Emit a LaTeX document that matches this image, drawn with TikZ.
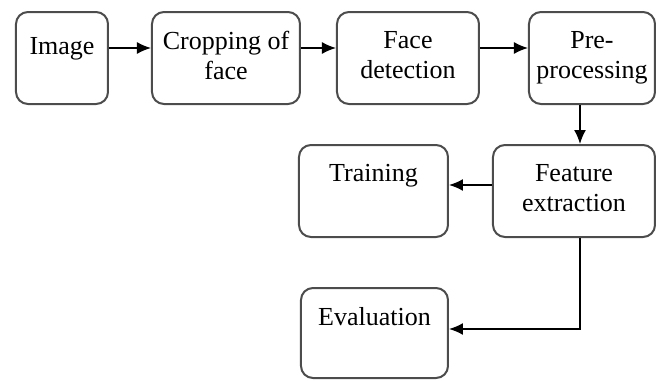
\documentclass[tikz,border=0pt]{standalone}
\usepackage{fontspec}
\setmainfont{Liberation Serif}
\usepackage{tikz}
\usetikzlibrary{arrows.meta}
\usetikzlibrary{positioning}

\begin{document}
\begin{tikzpicture} [x = 0.5pt, y = -0.5pt,
        box/.style = {draw=black!70, line width=1pt, rounded corners=6pt, minimum height=46pt},
        txt/.style = {inner sep=0pt, align=center, font=\fontsize{13}{15}\selectfont},
        link/.style = {line width=0.8pt, -{Latex[length=7pt, width=6pt]}}]
        \useasboundingbox (0, 0) rectangle (661, 381);
        \node[box, minimum width=46pt] (image) at (62, 58) {};
        \node[box, minimum width=74pt] (crop) at (226, 58) {};
        \node[box, minimum width=71pt] (detect) at (408, 58) {};
        \node[box, minimum width=63pt] (pre) at (592, 58) {};
        \node[box, minimum width=81pt] (feat) at (574, 191) {};
        \node[box, minimum width=74.5pt] (train) at (373.5, 191) {};
        \node[box, minimum width=73.5pt, minimum height=45pt] (eval) at (374.5, 333) {};
        \node[txt, below=13pt of image.north] (imagetext) {Image};
        \node[txt, below=10pt of crop.north] (croptext) {Cropping of\\face};
        \node[txt, below=10pt of detect.north] (detecttext) {Face\\detection};
        \node[txt, below=10pt of pre.north] (pretext) {Pre-\\processing};
        \node[txt, below=10pt of feat.north] (feattext) {Feature\\extraction};
        \node[txt, below=10pt of train.north] (traintext) {Training};
        \node[txt, below=10pt of eval.north] (evaltext) {Evaluation};
        \coordinate (drop) at (580, 0);
        \draw[link] ([yshift=5pt]image.east) -- ([yshift=5pt]crop.west);
        \draw[link] ([yshift=5pt]crop.east) -- ([yshift=5pt]detect.west);
        \draw[link] ([yshift=5pt]detect.east) -- ([yshift=5pt]pre.west);
        \draw[link] (pre.south -| drop) -- (feat.north -| drop);
        \draw[link] ([yshift=3pt]feat.west) -- ([yshift=3pt]train.east);
        \draw[link] (feat.south -| drop) |- ([yshift=2pt]eval.east);
    \end{tikzpicture}
\end{document}
